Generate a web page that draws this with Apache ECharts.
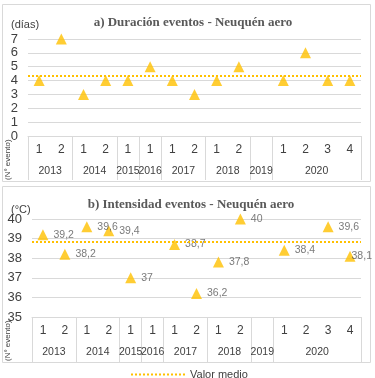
<!DOCTYPE html>
<html>
<head>
<meta charset="utf-8">
<script src="https://cdn.jsdelivr.net/npm/echarts@6/dist/echarts.min.js"></script>
<style>
  html, body { margin: 0; padding: 0; background: #fff; }
  #chart { width: 375px; height: 378px; }
</style>
</head>
<body>
<div id="chart"></div>
<script>
// eventos por categoria (2019 queda vacio)
const eventos = ['1', '2', '1', '2', '1', '1', '1', '2', '1', '2', '', '1', '2', '3', '4']
const anios = ['2013', '2014', '2015', '2016', '2017', '2018', '2019', '2020']
const eventosPorAnio = [2, 2, 1, 1, 2, 2, 1, 4]
const duracion = [4, 7, 3, 4, 4, 5, 4, 3, 4, 5, null, 4, 6, 4, 4]
const intensidad = [39.2, 38.2, 39.6, 39.4, 37, null, 38.7, 36.2, 37.8, 40, null, 38.4, null, 39.6, 38.1]
const mediaDuracion = 4.33
const mediaIntensidad = 38.85

const gold = '#FFC000'
const grey = '#d9d9d9'
const txt = '#404040'
const font = 'Liberation Sans'

// limites y centros de cada anio sobre el eje
const limites = [0]
const centros = []
eventosPorAnio.forEach(n => {
  const a = limites[limites.length - 1]
  centros.push(a + n / 2)
  limites.push(a + n)
})
const anioFmt = v => {
  const i = centros.indexOf(v)
  return i >= 0 ? anios[i] : ''
}

function ejesX(grid, tickLen) {
  return [{
    type: 'category',
    gridIndex: grid,
    data: eventos,
    axisLine: { lineStyle: { color: grey } },
    axisTick: { show: false },
    axisLabel: { interval: 0, margin: 8, color: txt, fontSize: 12, fontFamily: font }
  }, {
    type: 'value',
    gridIndex: grid,
    position: 'bottom',
    min: 0,
    max: eventos.length,
    splitLine: { show: false },
    axisLine: { show: false },
    axisTick: { show: true, customValues: limites, length: tickLen, lineStyle: { color: grey } },
    axisLabel: { customValues: centros, formatter: anioFmt, margin: 30, color: txt, fontSize: 10.5, fontFamily: font }
  }]
}

function ejeY(grid, min, max) {
  return {
    type: 'value',
    gridIndex: grid,
    min: min,
    max: max,
    interval: 1,
    axisLine: { show: false },
    axisTick: { show: false },
    splitLine: { lineStyle: { color: grey } },
    axisLabel: { margin: 10, color: txt, fontSize: 13, fontFamily: font }
  }
}

function media(valor, xi, yi) {
  return {
    name: 'Valor medio',
    type: 'line',
    xAxisIndex: xi,
    yAxisIndex: yi,
    data: [],
    symbol: 'none',
    lineStyle: { type: 'dotted', color: gold, width: 2 },
    itemStyle: { color: gold },
    markLine: {
      silent: true,
      symbol: 'none',
      label: { show: false },
      lineStyle: { type: 'dotted', color: gold, width: 2 },
      data: [{ yAxis: valor }]
    }
  }
}

// la ultima etiqueta queda pegada al marcador, como en el original
const ultimo = intensidad.length - 1
const intensidadData = intensidad.map((v, i) => i === ultimo ? { value: v, label: { distance: -4 } } : v)

const chart = echarts.init(document.getElementById('chart'))
chart.setOption({
  animation: false,
  title: [
    { text: 'a) Duración eventos - Neuquén aero', left: 188, top: 11, textAlign: 'center',
      textStyle: { fontFamily: 'Liberation Serif', fontWeight: 'bold', fontSize: 13, color: '#595959' } },
    { text: '(días)', left: 6, top: 14, textStyle: { fontFamily: font, fontWeight: 'normal', fontSize: 11, color: txt } },
    { text: 'b) Intensidad eventos - Neuquén aero', left: 186, top: 193, textAlign: 'center',
      textStyle: { fontFamily: 'Liberation Serif', fontWeight: 'bold', fontSize: 13, color: '#595959' } },
    { text: '(°C)', left: 6, top: 199, textStyle: { fontFamily: font, fontWeight: 'normal', fontSize: 11, color: txt } }
  ],
  legend: {
    left: 125,
    top: 364,
    itemWidth: 54,
    itemHeight: 10,
    itemStyle: { opacity: 0 },
    data: ['Valor medio'],
    textStyle: { fontFamily: font, fontSize: 11, color: txt }
  },
  grid: [
    { left: 28, top: 39, width: 333, height: 97 },
    { left: 32, top: 219, width: 329, height: 98 }
  ],
  xAxis: ejesX(0, 44).concat(ejesX(1, 45)),
  yAxis: [ejeY(0, 0, 7), ejeY(1, 35, 40)],
  graphic: [
    { type: 'rect', shape: { x: 2.5, y: 4.5, width: 368, height: 177 }, style: { fill: 'none', stroke: grey }, silent: true },
    { type: 'rect', shape: { x: 2.5, y: 186.5, width: 368, height: 176 }, style: { fill: 'none', stroke: grey }, silent: true },
    { type: 'text', x: 4, y: 180, rotation: Math.PI / 2,
      style: { text: '(N° evento)', fontSize: 8, fontFamily: font, fill: txt } },
    { type: 'text', x: 4, y: 361, rotation: Math.PI / 2,
      style: { text: '(N° evento)', fontSize: 8, fontFamily: font, fill: txt } }
  ],
  series: [
    {
      name: 'Duración',
      type: 'scatter',
      xAxisIndex: 0,
      yAxisIndex: 0,
      symbol: 'triangle',
      symbolSize: 11,
      itemStyle: { color: gold },
      data: duracion
    },
    media(mediaDuracion, 0, 0),
    {
      name: 'Intensidad',
      type: 'scatter',
      xAxisIndex: 2,
      yAxisIndex: 1,
      symbol: 'triangle',
      symbolSize: 11,
      itemStyle: { color: gold },
      label: {
        show: true,
        position: 'right',
        distance: 5,
        fontSize: 10.5,
        fontFamily: font,
        color: '#595959',
        formatter: p => String(p.value).replace('.', ',')
      },
      data: intensidadData
    },
    media(mediaIntensidad, 2, 1)
  ]
})
</script>
</body>
</html>
